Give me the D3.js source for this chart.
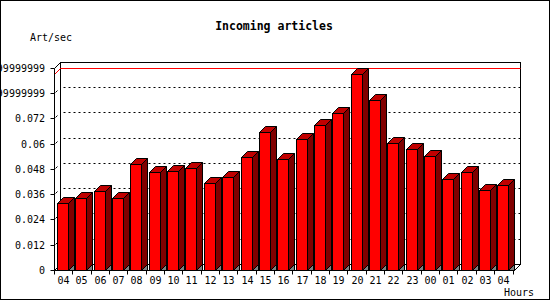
<!DOCTYPE html>
<html>
<head>
<meta charset="utf-8">
<script src="https://cdn.jsdelivr.net/npm/d3@7"></script>
<style>
  body { margin: 0; background: #fff; }
  svg text { font-family: "DejaVu Sans Mono", monospace; font-size: 10px; fill: #000; }
</style>
</head>
<body>
<svg width="550" height="300"></svg>
<script>
// hours on the x axis (starts and ends at 04)
let hours = ["04","05","06","07","08","09","10","11","12","13","14","15","16","17","18","19","20","21","22","23","00","01","02","03","04"];
// articles per second
let rates = [0.0316,0.0344,0.0373,0.0344,0.0501,0.0463,0.0472,0.0482,0.0411,0.0442,0.0534,0.0657,0.0529,0.0624,0.0690,0.0747,0.0932,0.0809,0.0605,0.0576,0.0543,0.0430,0.0466,0.0382,0.0401];
let yTicks = [0,0.012,0.024,0.036,0.048,0.06,0.072,0.084,0.096];
let yTickLabels = ["0","0.012","0.024","0.036","0.048","0.06","0.072","0.08399999999999999","0.09599999999999999"];

let svg = d3.select("svg");
let width = 550, height = 300;
let depth = 6;            // 3d offset of the back wall
let plotLeft = 54, plotRight = 512.5, plotBottom = 270, plotTop = 67.7;

// outer border
svg.append("rect")
    .attr("x", 0.5).attr("y", 0.5)
    .attr("width", width - 1).attr("height", height - 1)
    .attr("fill", "#fff").attr("stroke", "#000");

let x = d3.scaleBand()
    .domain(d3.range(hours.length))
    .range([plotLeft, plotRight])
    .padding(0);
let step = x.step();

let y = d3.scaleLinear()
    .domain([0, 0.096])
    .range([plotBottom, plotTop]);

let g = svg.append("g").attr("transform", "translate(0.5,0.5)");
let xEnd = plotRight + 1.5;
let yTop = Math.round(y(0.096));

// back wall frame
g.append("rect")
    .attr("x", plotLeft + depth).attr("y", yTop - depth)
    .attr("width", xEnd - plotLeft).attr("height", plotBottom - yTop)
    .attr("fill", "#fff").attr("stroke", "#000");

// dotted grid lines on the back wall
g.selectAll(".grid")
    .data(yTicks.slice(1, -1))
    .enter().append("line")
    .attr("x1", plotLeft + depth + 3).attr("x2", xEnd + depth)
    .attr("y1", d => Math.round(y(d)) - depth)
    .attr("y2", d => Math.round(y(d)) - depth)
    .attr("stroke", "#000")
    .attr("stroke-dasharray", "2,3");

// small diagonal marks on the left wall
g.selectAll(".wallmark")
    .data(yTicks)
    .enter().append("line")
    .attr("x1", plotLeft + 1).attr("x2", plotLeft + 3)
    .attr("y1", d => Math.round(y(d)) - 1)
    .attr("y2", d => Math.round(y(d)) - 3)
    .attr("stroke", "#000");

// max value line (red)
let maxVal = d3.max(rates);
g.append("line")
    .attr("x1", plotLeft + depth).attr("x2", xEnd + depth)
    .attr("y1", Math.round(y(maxVal)) - depth).attr("y2", Math.round(y(maxVal)) - depth)
    .attr("stroke", "#f00");
g.append("line")
    .attr("x1", plotLeft).attr("x2", plotLeft + depth)
    .attr("y1", Math.round(y(maxVal))).attr("y2", Math.round(y(maxVal)) - depth)
    .attr("stroke", "#f00");

// left wall + floor edges
g.append("line").attr("x1", plotLeft).attr("x2", plotLeft)
    .attr("y1", yTop).attr("y2", plotBottom).attr("stroke", "#000");
g.append("line").attr("x1", plotLeft).attr("x2", plotLeft + depth)
    .attr("y1", yTop).attr("y2", yTop - depth).attr("stroke", "#000");
g.append("line").attr("x1", plotLeft).attr("x2", plotLeft + depth)
    .attr("y1", plotBottom).attr("y2", plotBottom - depth).attr("stroke", "#000");
g.append("line").attr("x1", xEnd).attr("x2", xEnd + depth)
    .attr("y1", plotBottom).attr("y2", plotBottom - depth).attr("stroke", "#000");

// bars
let bx = i => Math.round(x(i) + step * 0.17);
let bw = Math.round(step * 0.58);
let bars = g.selectAll(".bar")
    .data(rates)
    .enter().append("g")
    .classed("bar", true);

bars.append("polygon")  // floor shadow
    .attr("points", (d, i) => {
        let a = bx(i) + bw;
        return [[a, plotBottom], [a + depth, plotBottom - depth], [a + depth, plotBottom]].join(" ");
    })
    .attr("fill", "#808080").attr("stroke", "#000");

bars.append("polygon")  // side
    .attr("points", (d, i) => {
        let a = bx(i) + bw, t = Math.round(y(d));
        return [[a, t], [a + depth, t - depth], [a + depth, plotBottom - depth], [a, plotBottom]].join(" ");
    })
    .attr("fill", "#800000").attr("stroke", "#000");

bars.append("polygon")  // top
    .attr("points", (d, i) => {
        let a = bx(i), t = Math.round(y(d));
        return [[a, t], [a + bw, t], [a + bw + depth, t - depth], [a + depth, t - depth]].join(" ");
    })
    .attr("fill", "#c00000").attr("stroke", "#000");

bars.append("rect")     // front
    .attr("x", (d, i) => bx(i))
    .attr("y", d => Math.round(y(d)))
    .attr("width", bw)
    .attr("height", d => plotBottom - Math.round(y(d)))
    .attr("fill", "#f00").attr("stroke", "#000");

// x axis line, ticks and labels
g.append("line").attr("x1", plotLeft).attr("x2", xEnd)
    .attr("y1", plotBottom).attr("y2", plotBottom).attr("stroke", "#000");
g.selectAll(".xtick")
    .data(d3.range(hours.length + 1))
    .enter().append("line")
    .attr("x1", i => Math.round(plotLeft + i * step)).attr("x2", i => Math.round(plotLeft + i * step))
    .attr("y1", plotBottom).attr("y2", plotBottom + 4)
    .attr("stroke", "#000");
svg.selectAll(".xlabel")
    .data(hours)
    .enter().append("text")
    .attr("x", (d, i) => bx(i) + bw / 2 + 1)
    .attr("y", plotBottom + 14)
    .attr("text-anchor", "middle")
    .text(d => d);

// y axis ticks and labels
g.selectAll(".ytick")
    .data(yTicks)
    .enter().append("line")
    .attr("x1", plotLeft - 4).attr("x2", plotLeft)
    .attr("y1", d => Math.round(y(d))).attr("y2", d => Math.round(y(d)))
    .attr("stroke", "#000");
svg.selectAll(".ylabel")
    .data(yTicks)
    .enter().append("text")
    .attr("x", 45)
    .attr("y", d => Math.round(y(d)) + 4)
    .attr("text-anchor", "end")
    .text((d, i) => yTickLabels[i]);

// titles
svg.append("text")
    .attr("x", 274).attr("y", 30)
    .attr("text-anchor", "middle")
    .style("font-weight", "bold")
    .style("font-size", "11.5px")
    .text("Incoming articles");
svg.append("text")
    .attr("x", 30).attr("y", 41)
    .text("Art/sec");
svg.append("text")
    .attr("x", 504).attr("y", 296)
    .text("Hours");
</script>
</body>
</html>
